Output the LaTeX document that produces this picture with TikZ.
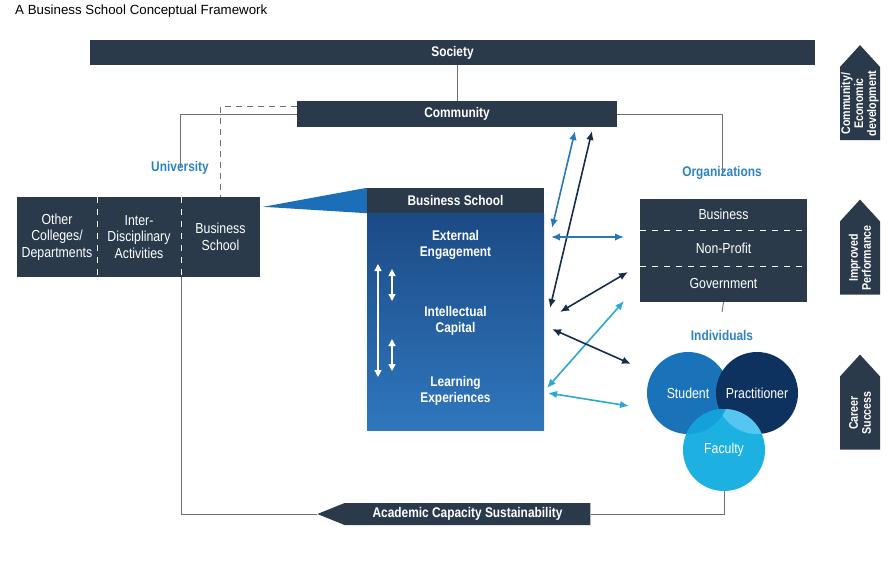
\documentclass[tikz,border=0pt]{standalone}
\usepackage{fontspec}
\setmainfont{Liberation Sans}
\newfontfamily\condfont[FakeStretch=0.85]{Liberation Sans}
\usetikzlibrary{arrows.meta,positioning,shapes.arrows,calc}
\definecolor{boxnavy}{HTML}{2A3A4B}
\definecolor{labelblue}{HTML}{2B83C6}
\definecolor{wedgeblue}{HTML}{1A6FB8}
\definecolor{steelarrow}{HTML}{2878B5}
\definecolor{navyarrow}{HTML}{152D4D}
\definecolor{cyanarrow}{HTML}{2AA8D2}
\definecolor{linkgrey}{HTML}{707070}
\definecolor{studentblue}{HTML}{1A72B9}
\definecolor{practnavy}{HTML}{0E3260}
\definecolor{facultycyan}{HTML}{1DB1E1}
\definecolor{facultylight}{HTML}{55C6F0}
\definecolor{facultymid}{HTML}{14A0DA}
\definecolor{schooltop}{HTML}{1C4A85}
\definecolor{schoolmid}{HTML}{4670A8}
\definecolor{schoolbot}{HTML}{2F77BE}
\tikzset{
  darkbar/.style={fill=boxnavy, text=white, inner sep=0pt, align=center, font=\condfont\bfseries\fontsize{14}{16}\selectfont},
  darkcell/.style={fill=boxnavy, text=white, inner sep=0pt, align=center, font=\condfont\fontsize{14.5}{16.5}\selectfont},
  grouplabel/.style={text=labelblue, inner sep=1pt, font=\condfont\bfseries\fontsize{14}{16}\selectfont},
  schooltext/.style={text=white, align=center, inner sep=0pt, font=\condfont\bfseries\fontsize{14}{16.5}\selectfont},
  person/.style={circle, minimum size=82pt, inner sep=0pt, text=white, font=\condfont\fontsize{14.5}{16}\selectfont},
  outcome/.style={single arrow, rotate=90, fill=boxnavy, text=white, align=center, minimum height=95pt, minimum width=40pt,
    single arrow head extend=0pt, single arrow tip angle=85, inner sep=0pt, font=\condfont\bfseries\fontsize{12.5}{13}\selectfont},
  link/.style={draw=linkgrey, line width=0.9pt},
  dashlink/.style={draw=linkgrey, line width=0.9pt, dash pattern=on 6pt off 5pt},
  whitesep/.style={draw=white, line width=1.2pt, dash pattern=on 6pt off 6pt},
  flow/.style={{Latex[length=9pt,width=7.5pt]}-{Latex[length=9pt,width=7.5pt]}, line width=1.6pt},
  inner/.style={{Triangle[length=7pt,width=7pt]}-{Triangle[length=7pt,width=7pt]}, draw=white, line width=1.4pt}
}
\begin{document}
\begin{tikzpicture}[x=1pt,y=-1pt]
\useasboundingbox (0,0) rectangle (894,576);
\node[anchor=west, inner sep=0pt, font=\fontsize{13.3}{15}\selectfont] (title) at (15,11) {A Business School Conceptual Framework};
% top bars
\node[darkbar, minimum width=725pt, minimum height=25pt] (society) at (452.5,52.5) {Society};
\node[darkbar, minimum width=320pt, minimum height=26pt] (community) at (457,114) {Community};
% university
\node[grouplabel] (univ) at (180,168) {University};
\node[darkcell, minimum width=80pt, minimum height=80pt] (uother) at (57,237) {Other\\Colleges/\\Departments};
\node[darkcell, minimum width=84pt, minimum height=80pt] (uinter) at (139,237) {Inter-\\Disciplinary\\Activities};
\node[darkcell, minimum width=79pt, minimum height=80pt] (uschool) at (220.5,237) {Business\\School};
\draw[whitesep] (uother.north east) -- (uother.south east);
\draw[whitesep] (uinter.north east) -- (uinter.south east);
% business school
\node[darkbar, minimum width=177pt, minimum height=25pt] (bshead) at (455.5,200.5) {Business School};
\node[minimum width=177pt, minimum height=217pt, inner sep=0pt, top color=schooltop, middle color=schoolmid, bottom color=schoolbot] (bsbody) at (455.5,321.5) {};
\fill[wedgeblue] ($(uschool.north east)+(3,10)$) -- (bshead.north west) -- (bshead.south west) -- cycle;
\node[schooltext] (engage) at (455.5,245) {External\\Engagement};
\node[schooltext] (capital) at (455.5,321) {Intellectual\\Capital};
\node[schooltext] (learning) at (455.5,391) {Learning\\Experiences};
\coordinate (long-top) at (378,264);
\coordinate (long-bot) at (378,377);
\coordinate (up-top) at (392,269);
\coordinate (up-bot) at (392,301);
\coordinate (low-top) at (392,339);
\coordinate (low-bot) at (392,371);
\draw[inner] (long-top) -- (long-bot);
\draw[inner] (up-top) -- (up-bot);
\draw[inner] (low-top) -- (low-bot);
% organizations
\node[grouplabel] (orgs) at (722,173) {Organizations};
\node[darkcell, minimum width=167pt, minimum height=31pt] (business) at (723.5,214.5) {Business};
\node[darkcell, minimum width=167pt, minimum height=36pt] (nonprofit) at (723.5,248) {Non-Profit};
\node[darkcell, minimum width=167pt, minimum height=36pt] (government) at (723.5,284) {Government};
\draw[whitesep] (business.south west) -- (business.south east);
\draw[whitesep] (nonprofit.south west) -- (nonprofit.south east);
\coordinate (gov-stub) at (722,312);
% individuals
\node[grouplabel] (indiv) at (722,335) {Individuals};
\node[person, fill=studentblue] (student) at (688,393) {Student};
\node[person, fill=practnavy] (practitioner) at (757,393) {Practitioner};
\node[person, fill=facultycyan] (faculty) at (724,450) {};
\begin{scope}
  \clip (practitioner.center) circle (41pt);
  \fill[facultylight] (faculty.center) circle (41pt);
\end{scope}
\begin{scope}
  \clip (student.center) circle (41pt);
  \fill[facultymid] (faculty.center) circle (41pt);
\end{scope}
\node[text=white, inner sep=0pt, font=\condfont\fontsize{14.5}{16}\selectfont] (facultytext) at (faculty.center) {Faculty};
% outcomes
\node[outcome] (commdev) at (860,103.5) {Community/\\Economic\\development};
\node[outcome] (perform) at (860,258) {Improved\\Performance};
\node[outcome] (career) at (860,413) {Career\\Success};
% sustainability
\node[single arrow, shape border rotate=180, fill=boxnavy, text=white, minimum height=273pt, minimum width=22pt,
  single arrow head extend=0pt, single arrow tip angle=44, inner sep=0pt,
  font=\condfont\bfseries\fontsize{14}{16}\selectfont] (acs) at (467.5,514) {Academic Capacity Sustainability};
% grey links
\draw[link] (society.south -| community.north) -- (community.north);
\draw[link] (community.west) -| ([yshift=-8pt]univ.north);
\draw[dashlink] ([yshift=8pt]community.west) -| (uschool.north);
\draw[link] (community.east) -| ([yshift=-8pt]orgs.north);
\draw[link] (government.south) -- (gov-stub);
\draw[link] (faculty.south) |- (acs.tail);
\draw[link] (acs.tip) -| (uinter.south east);
% flows
\coordinate (ee-up) at (552,228);   \coordinate (comm-a) at (575,131);
\coordinate (ic-up) at (550,308);   \coordinate (comm-b) at (592,131);
\coordinate (ee-org) at (551,237);  \coordinate (org-a) at (624,237);
\coordinate (ic-org) at (560,312);  \coordinate (org-b) at (628,272);
\coordinate (le-org) at (547,388);  \coordinate (org-c) at (624,301);
\coordinate (ic-ind) at (552,329);  \coordinate (ind-a) at (631,364);
\coordinate (le-ind) at (548,393);  \coordinate (ind-b) at (629,406);
\draw[flow, steelarrow] (ee-up) -- (comm-a);
\draw[flow, navyarrow] (ic-up) -- (comm-b);
\draw[flow, steelarrow] (ee-org) -- (org-a);
\draw[flow, navyarrow] (ic-org) -- (org-b);
\draw[flow, cyanarrow] (le-org) -- (org-c);
\draw[flow, navyarrow] (ic-ind) -- (ind-a);
\draw[flow, cyanarrow] (le-ind) -- (ind-b);
\end{tikzpicture}
\end{document}
